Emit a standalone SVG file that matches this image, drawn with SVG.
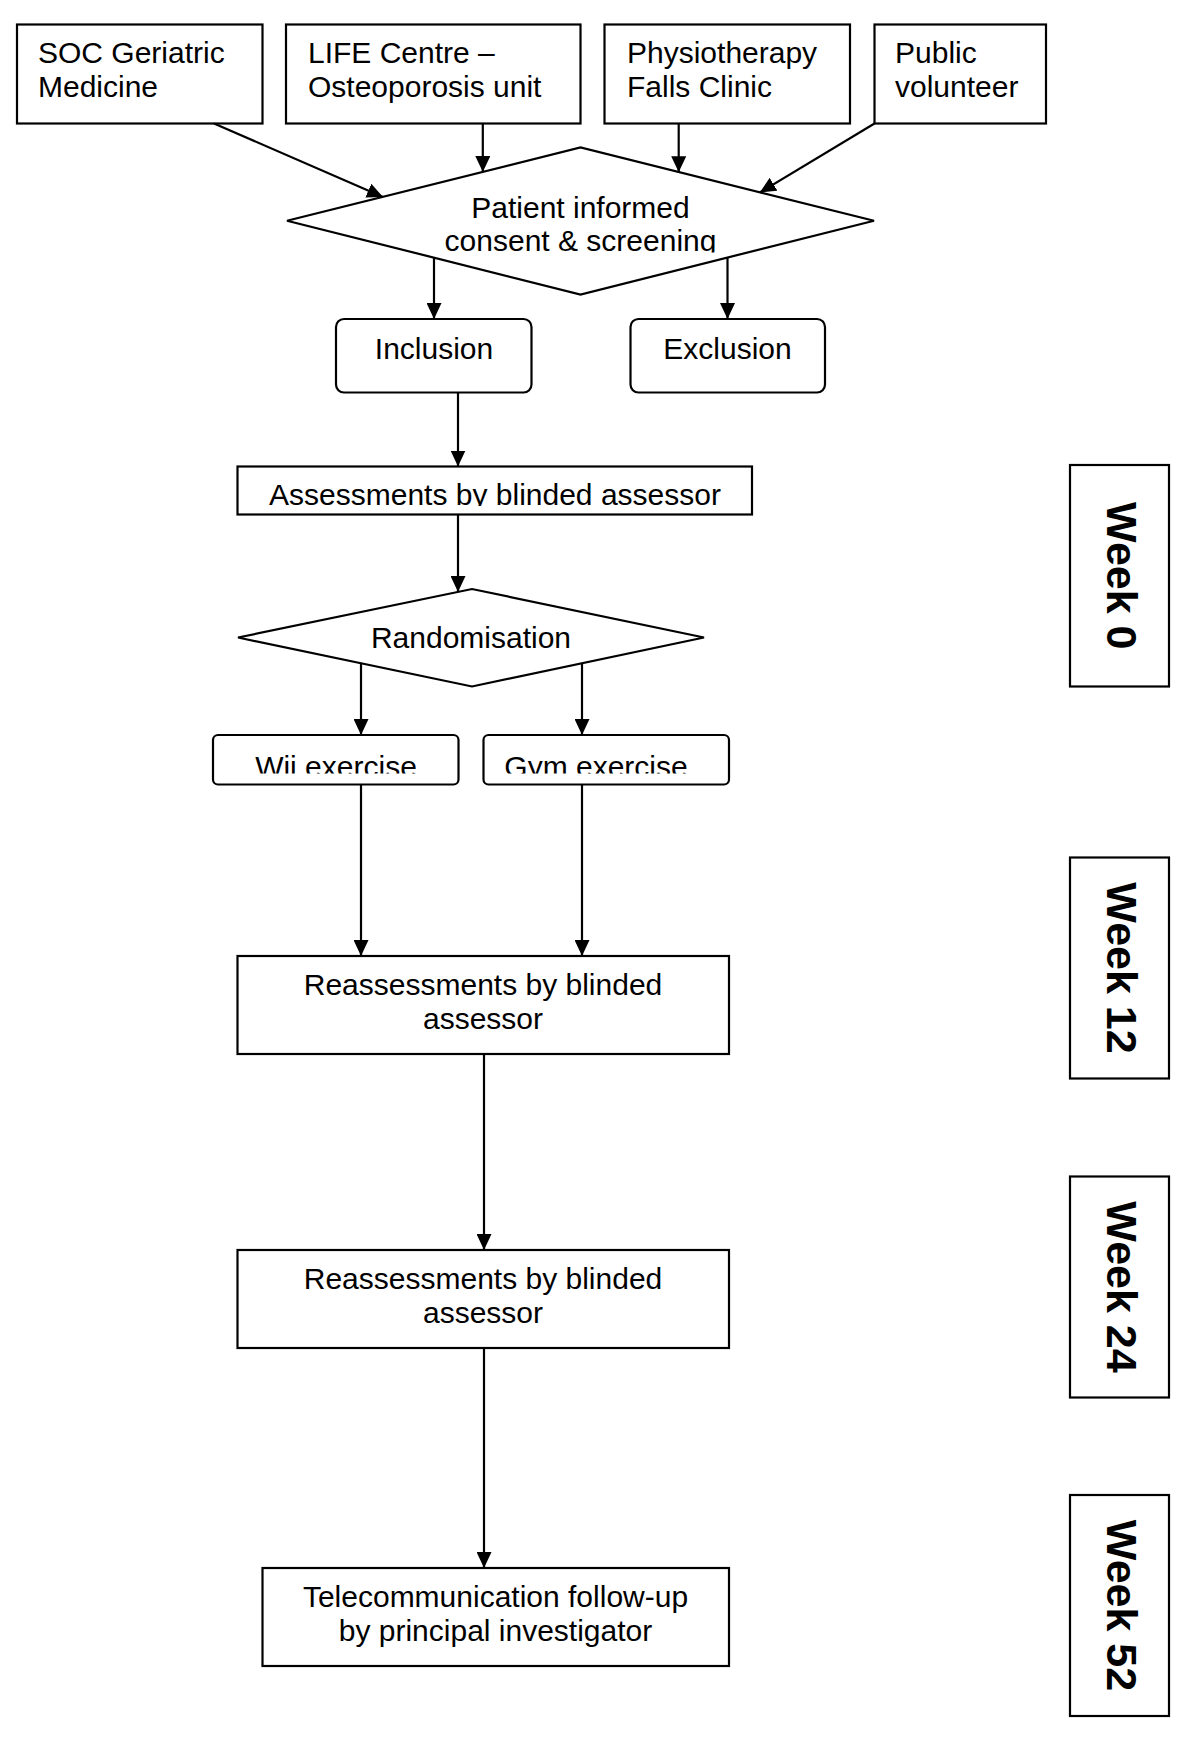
<svg xmlns="http://www.w3.org/2000/svg" width="1200" height="1737" viewBox="0 0 1200 1737">
<style>
.box{fill:#fff;stroke:#000;stroke-width:2.2}
.t{font-family:"Liberation Sans",Arial,sans-serif;font-size:30px;fill:#000}
.c{text-anchor:middle}
.wk{font-family:"Liberation Sans",Arial,sans-serif;font-size:43px;font-weight:bold;fill:#000;text-anchor:middle}
.ln{stroke:#000;stroke-width:2.2;fill:none;marker-end:url(#ah)}
</style>
<defs>
<marker id="ah" markerUnits="userSpaceOnUse" markerWidth="16" markerHeight="15" refX="16" refY="7.5" orient="auto">
<path d="M0,0 L16,7.5 L0,15 z" fill="#000"/>
</marker>
<clipPath id="clipD"><rect x="287" y="147" width="587" height="105.5"/></clipPath>
<clipPath id="clipA"><rect x="237" y="466" width="515" height="40"/></clipPath>
<clipPath id="clipW"><rect x="200" y="735" width="540" height="38.5"/></clipPath>
</defs>
<rect width="1200" height="1737" fill="#fff"/>

<g id="soc">
<rect class="box" x="17" y="24.5" width="245.5" height="99"/>
<text class="t" x="38" y="63">SOC Geriatric</text>
<text class="t" x="38" y="97">Medicine</text>
</g>
<g id="life">
<rect class="box" x="286" y="24.5" width="294.5" height="99"/>
<text class="t" x="308" y="63">LIFE Centre –</text>
<text class="t" x="308" y="97">Osteoporosis unit</text>
</g>
<g id="physio">
<rect class="box" x="604.5" y="24.5" width="245.5" height="99"/>
<text class="t" x="627" y="63">Physiotherapy</text>
<text class="t" x="627" y="97">Falls Clinic</text>
</g>
<g id="public">
<rect class="box" x="874.5" y="24.5" width="171.5" height="99"/>
<text class="t" x="895" y="63">Public</text>
<text class="t" x="895" y="97">volunteer</text>
</g>

<g id="screening">
<polygon class="box" points="287,220.7 580.5,147.5 874,220.7 580.5,294.5"/>
<g clip-path="url(#clipD)">
<text class="t c" x="580.5" y="217.5">Patient informed</text>
<text class="t c" x="580.5" y="251">consent &amp; screening</text>
</g>
</g>

<g id="inclusion">
<rect class="box" x="336" y="319" width="195.5" height="73.5" rx="8"/>
<text class="t c" x="434" y="359">Inclusion</text>
</g>
<g id="exclusion">
<rect class="box" x="630.5" y="319" width="194.5" height="73.5" rx="8"/>
<text class="t c" x="727.5" y="359">Exclusion</text>
</g>

<g id="assessments">
<rect class="box" x="237.5" y="466.5" width="514.5" height="48"/>
<text class="t c" x="495" y="505" clip-path="url(#clipA)">Assessments by blinded assessor</text>
</g>

<g id="randomisation">
<polygon class="box" points="238,637.5 472,589 704,637.5 472,686.5"/>
<text class="t c" x="471" y="648">Randomisation</text>
</g>

<g id="wii">
<rect class="box" x="213" y="735" width="245.5" height="49.5" rx="5"/>
<text class="t c" x="336" y="776.5" clip-path="url(#clipW)">Wii exercise</text>
</g>
<g id="gym">
<rect class="box" x="483.5" y="735" width="245.5" height="49.5" rx="5"/>
<text class="t c" x="596" y="776.5" clip-path="url(#clipW)">Gym exercise</text>
</g>

<g id="reassess12">
<rect class="box" x="237.5" y="956" width="491.5" height="98"/>
<text class="t c" x="483" y="994.5">Reassessments by blinded</text>
<text class="t c" x="483" y="1028.5">assessor</text>
</g>
<g id="reassess24">
<rect class="box" x="237.5" y="1250" width="491.5" height="98"/>
<text class="t c" x="483" y="1288.5">Reassessments by blinded</text>
<text class="t c" x="483" y="1322.5">assessor</text>
</g>
<g id="telecom">
<rect class="box" x="262.5" y="1568" width="466.5" height="98"/>
<text class="t c" x="495.5" y="1606.5">Telecommunication follow-up</text>
<text class="t c" x="495.5" y="1640.5">by principal investigator</text>
</g>

<g id="week0">
<rect class="box" x="1070" y="465" width="99" height="221.5"/>
<text class="wk" transform="translate(1107,575.8) rotate(90)">Week 0</text>
</g>
<g id="week12">
<rect class="box" x="1070" y="857.5" width="99" height="221"/>
<text class="wk" transform="translate(1107,968) rotate(90)">Week 12</text>
</g>
<g id="week24">
<rect class="box" x="1070" y="1176.5" width="99" height="221"/>
<text class="wk" transform="translate(1107,1287) rotate(90)">Week 24</text>
</g>
<g id="week52">
<rect class="box" x="1070" y="1495" width="99" height="221"/>
<text class="wk" transform="translate(1107,1605.5) rotate(90)">Week 52</text>
</g>

<g id="connectors">
<line class="ln" x1="214" y1="123.5" x2="383" y2="197"/>
<line class="ln" x1="482.8" y1="123.5" x2="482.8" y2="172"/>
<line class="ln" x1="678.7" y1="123.5" x2="678.7" y2="172.2"/>
<line class="ln" x1="874.5" y1="123.5" x2="759.8" y2="192.5"/>
<line class="ln" x1="434" y1="258" x2="434" y2="319"/>
<line class="ln" x1="727.5" y1="258" x2="727.5" y2="319"/>
<line class="ln" x1="458" y1="392.5" x2="458" y2="466.5"/>
<line class="ln" x1="458" y1="514.5" x2="458" y2="592"/>
<line class="ln" x1="361" y1="663.3" x2="361" y2="735"/>
<line class="ln" x1="582" y1="663.3" x2="582" y2="735"/>
<line class="ln" x1="361" y1="784.5" x2="361" y2="956"/>
<line class="ln" x1="582" y1="784.5" x2="582" y2="956"/>
<line class="ln" x1="484" y1="1054" x2="484" y2="1250"/>
<line class="ln" x1="484" y1="1348" x2="484" y2="1568"/>
</g>
</svg>
